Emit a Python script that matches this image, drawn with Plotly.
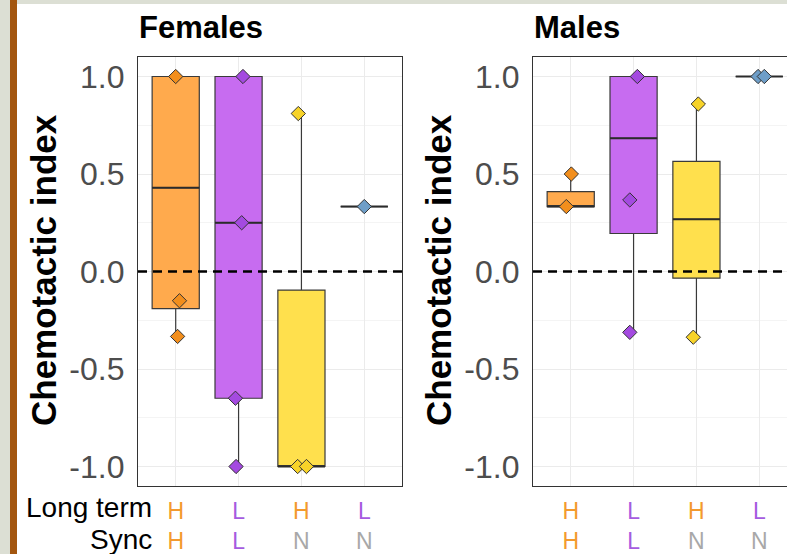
import plotly.graph_objects as go

# ---------------- data ----------------
panels = ["Females", "Males"]
long_term = ["H", "L", "H", "L"]
sync = ["H", "L", "N", "N"]
positions = [1, 2, 3, 4]

# box statistics (per panel, per group)
fem_q1 = [-0.19, -0.65, -1.0, 0.333]
fem_med = [0.43, 0.25, -1.0, 0.333]
fem_q3 = [1.0, 1.0, -0.095, 0.333]
fem_lo = [-0.333, -1.0, -1.0, 0.333]
fem_hi = [1.0, 1.0, 0.81, 0.333]

mal_q1 = [0.333, 0.195, -0.034, 1.0]
mal_med = [0.333, 0.683, 0.268, 1.0]
mal_q3 = [0.41, 1.0, 0.565, 1.0]
mal_lo = [0.333, -0.312, -0.337, 1.0]
mal_hi = [0.5, 1.0, 0.859, 1.0]

# individual (jittered) observations: values and horizontal jitter
fem_pts = [[1.0, -0.15, -0.333], [1.0, 0.25, -0.65, -1.0], [0.81, -1.0, -1.0], [0.333]]
fem_jit = [[0.0, 0.06, 0.03], [0.07, 0.05, -0.05, -0.04], [-0.05, -0.06, 0.08], [0.0]]
mal_pts = [[0.5, 0.333], [1.0, 0.367, -0.312], [0.859, -0.337], [1.0, 1.0]]
mal_jit = [[0.01, -0.07], [0.06, -0.06, -0.06], [0.03, -0.05], [-0.02, 0.08]]

y_ticks = [-1.0, -0.5, 0.0, 0.5, 1.0]

# ---------------- styles ----------------
fill_cols = ["#ffaa4d", "#c76cf0", "#ffe04d", "#7aa7cf"]
pt_cols = ["#f28e1c", "#a44ae0", "#f7d329", "#6e9ec8"]
lab_cols = {"H": "#f39a2e", "L": "#a55be0", "N": "#a8a8a8"}
BOX_W = 0.75

W, H = 787, 554
fig = go.Figure()

ticktext = [
    f"<span style='color:{lab_cols[a]}'>{a}</span><br><span style='color:{lab_cols[b]}'>{b}</span>"
    for a, b in zip(long_term, sync)
]

sets = [
    ("x", "y", fem_q1, fem_med, fem_q3, fem_lo, fem_hi, fem_pts, fem_jit),
    ("x2", "y2", mal_q1, mal_med, mal_q3, mal_lo, mal_hi, mal_pts, mal_jit),
]
for xa, ya, q1, med, q3, lo, hi, pts, jit in sets:
    for i, p in enumerate(positions):
        fig.add_trace(go.Box(
            x=[p], q1=[q1[i]], median=[med[i]], q3=[q3[i]],
            lowerfence=[lo[i]], upperfence=[hi[i]],
            width=BOX_W, fillcolor=fill_cols[i], whiskerwidth=0,
            line=dict(color="#3a3a3a", width=1.2), boxpoints=False,
            xaxis=xa, yaxis=ya, showlegend=False, hoverinfo="skip",
        ))
        # thicker median line, as in the original
        fig.add_trace(go.Scatter(
            x=[p - BOX_W / 2, p + BOX_W / 2], y=[med[i], med[i]], mode="lines",
            line=dict(color="#2b2b2b", width=2), xaxis=xa, yaxis=ya,
            showlegend=False, hoverinfo="skip",
        ))
    for i, p in enumerate(positions):
        fig.add_trace(go.Scatter(
            x=[p + j for j in jit[i]], y=pts[i], mode="markers",
            marker=dict(symbol="diamond", size=11, color=pt_cols[i],
                        line=dict(color="#333333", width=1)),
            xaxis=xa, yaxis=ya, showlegend=False, hoverinfo="skip",
        ))

ydom = [(H - 486) / H, (H - 57) / H]
axis_common = dict(showgrid=True, gridcolor="#ebebeb", gridwidth=1, zeroline=False,
                   showline=True, linecolor="#333333", linewidth=1.2, ticks="")
yaxis_common = dict(axis_common, range=[-1.1, 1.1], tickvals=y_ticks,
                    ticktext=[f"{v:.1f}" for v in y_ticks],
                    tickfont=dict(family="Liberation Sans", size=32, color="#4d4d4d"),
                    ticklabelstandoff=6,
                    minor=dict(showgrid=True, gridcolor="#f4f4f4", gridwidth=0.6,
                               tickvals=[-0.75, -0.25, 0.25, 0.75]))
xaxis_common = dict(axis_common, tickvals=positions, ticktext=ticktext,
                    tickfont=dict(family="Liberation Sans", size=23),
                    ticklabelstandoff=4)

fig.update_layout(
    width=W, height=H, margin=dict(l=0, r=0, t=0, b=0),
    paper_bgcolor="white", plot_bgcolor="white",
    xaxis=dict(xaxis_common, domain=[138 / W, 402 / W], range=[0.4, 4.6], mirror=True),
    yaxis=dict(yaxis_common, domain=ydom, anchor="x", mirror=True),
    xaxis2=dict(xaxis_common, domain=[533 / W, 1.0], range=[0.4, 0.4 + 254 / 62.857],
                mirror=True, anchor="y2"),
    yaxis2=dict(yaxis_common, domain=ydom, anchor="x2", mirror=False),
)

# dashed zero reference lines
for xr, yr in [("x domain", "y"), ("x2 domain", "y2")]:
    fig.add_shape(type="line", xref=xr, yref=yr, x0=0, x1=1, y0=0, y1=0,
                  line=dict(color="black", width=2.5, dash="9px,6px"), layer="above")

# slide background decoration
fig.add_shape(type="rect", xref="paper", yref="paper", x0=0, x1=10 / W, y0=0, y1=1,
              fillcolor="#dcdfd4", line_width=0, layer="below")
fig.add_shape(type="rect", xref="paper", yref="paper", x0=10 / W, x1=17 / W, y0=0, y1=1,
              fillcolor="#a3560f", line_width=0, layer="below")
fig.add_shape(type="rect", xref="paper", yref="paper", x0=17 / W, x1=1, y0=1 - 4 / H, y1=1,
              fillcolor="#dcdfd4", line_width=0, layer="below")

# titles and axis titles
for name, x0, xt in [(panels[0], 137, 43), (panels[1], 532, 438)]:
    fig.add_annotation(text=f"<b>{name}</b>", xref="paper", yref="paper",
                       x=x0 / W, y=1 - 27 / H, xanchor="left", yanchor="middle",
                       showarrow=False,
                       font=dict(family="Liberation Sans", size=31, color="black"))
    fig.add_annotation(text="<b>Chemotactic index</b>", xref="paper", yref="paper",
                       x=xt / W, y=(H - 270) / H, xanchor="center", yanchor="middle",
                       textangle=-90, showarrow=False,
                       font=dict(family="Liberation Sans", size=35, color="black"))

for txt, yy in [("Long term", 507), ("Sync", 539)]:
    fig.add_annotation(text=txt, xref="paper", yref="paper", x=154 / W, y=1 - yy / H,
                       xanchor="right", yanchor="middle", showarrow=False,
                       font=dict(family="Liberation Sans", size=28, color="black"))

fig.write_html("out.html")
